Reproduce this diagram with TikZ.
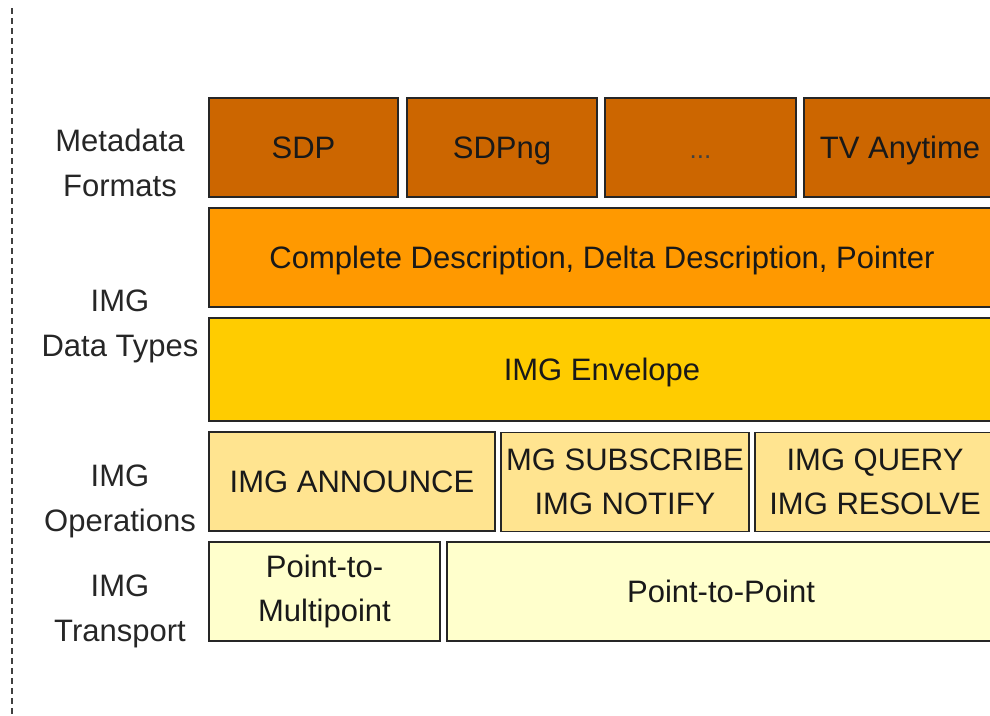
\documentclass[tikz,border=0pt]{standalone}
\usepackage{fontspec}
\setmainfont{Liberation Sans}
\usepackage{tikz}
\usetikzlibrary{positioning}

\definecolor{fmtcol}{HTML}{CC6600}
\definecolor{desccol}{HTML}{FF9900}
\definecolor{envcol}{HTML}{FFCC00}
\definecolor{opcol}{HTML}{FFE490}
\definecolor{transcol}{HTML}{FFFFCC}

\tikzset{
	layer/.style={draw=black!85,line width=1.4pt,rectangle,inner sep=0pt,align=center,
		text=black!90,font=\fontsize{31}{44}\selectfont,minimum height=99pt},
	oneline/.style={text height=22pt,text depth=0pt},
	lbl/.style={align=center,text=black!85,font=\fontsize{31}{45}\selectfont}
}

\begin{document}
\begin{tikzpicture}[x=1pt,y=-1pt]
	\useasboundingbox (0,0) rectangle (990,715);
	\clip (0,0) rectangle (990,715);
	\draw[dashed,dash pattern=on 6pt off 4pt,line width=1.6pt,black!75] (12,8) -- (12,715);
	% metadata formats
	\node[lbl] (lblfmt) at (120,163) {Metadata\\Formats};
	\node[layer,oneline,fill=fmtcol,minimum width=189pt] (sdp) at (303.5,147.5) {SDP};
	\node[layer,oneline,fill=fmtcol,minimum width=190pt] (sdpng) at (502,147.5) {SDPng};
	\node[layer,oneline,fill=fmtcol,minimum width=191pt,text=black!75] (dots) at (700.5,147.5) {\fontsize{26}{30}\selectfont...};
	\node[layer,oneline,fill=fmtcol,minimum width=192pt] (tva) at (900,147.5) {TV Anytime};
	% data types
	\node[lbl] (lbltypes) at (120,326) {IMG\\Data Types};
	\node[layer,oneline,fill=desccol,minimum width=786pt] (desc) at (602,257.5) {Complete Description, Delta Description, Pointer};
	\node[layer,oneline,fill=envcol,minimum width=786pt,minimum height=103pt] (env) at (602,369.5) {IMG Envelope};
	% operations
	\node[lbl] (lblops) at (120,501) {IMG\\Operations};
	\node[layer,oneline,fill=opcol,minimum width=286pt] (announce) at (352,481.5) {IMG ANNOUNCE};
	\node[layer,fill=opcol,minimum width=248pt] (subscribe) at (625,482) {MG SUBSCRIBE\\IMG NOTIFY};
	\node[layer,fill=opcol,minimum width=240pt] (query) at (875,482) {IMG QUERY\\IMG RESOLVE};
	% transport
	\node[lbl] (lbltrans) at (120,611) {IMG\\Transport};
	\node[layer,fill=transcol,minimum width=231pt] (ptmp) at (324.5,591.5) {Point-to-\\Multipoint};
	\node[layer,oneline,fill=transcol,minimum width=548pt] (ptp) at (721,591.5) {Point-to-Point};
\end{tikzpicture}
\end{document}
